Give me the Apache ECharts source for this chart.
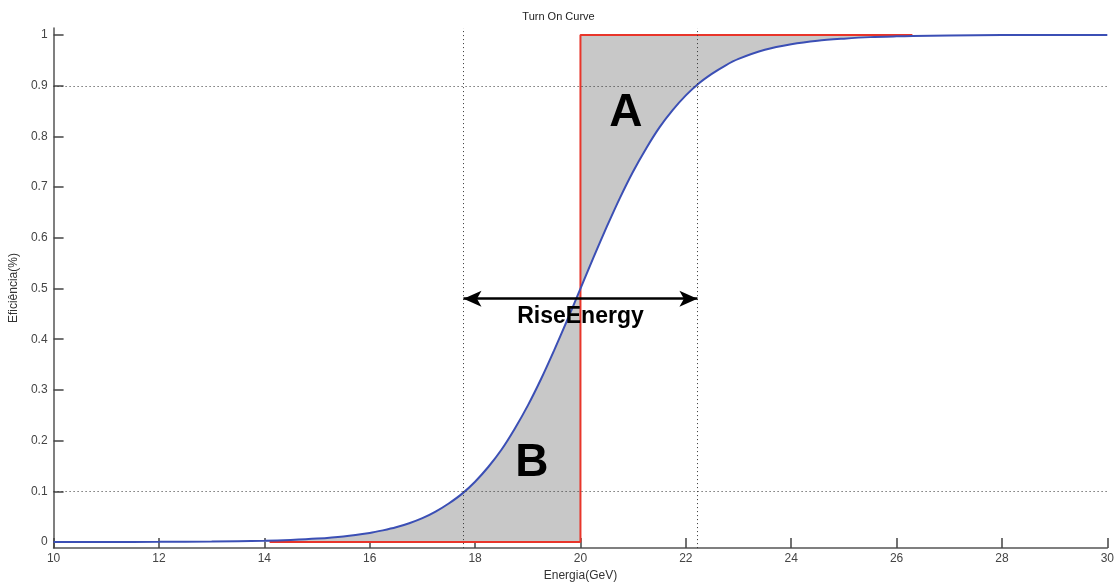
<!DOCTYPE html>
<html>
<head>
<meta charset="utf-8">
<script src="https://cdn.jsdelivr.net/npm/echarts@6/dist/echarts.min.js"></script>
<style>
  html, body { margin: 0; padding: 0; background: #fff; }
  #chart { width: 1117px; height: 587px; }
</style>
</head>
<body>
<div id="chart"></div>
<script>
// Efficiency turn-on curve (energy in GeV vs efficiency)
const energy = [10, 11, 12, 13, 14, 14.5, 15, 15.5, 16, 16.25, 16.5, 16.75, 17, 17.25, 17.5, 17.75,
                18, 18.25, 18.5, 18.75, 19, 19.25, 19.5, 19.75, 20, 20.25, 20.5, 20.75, 21, 21.25,
                21.5, 21.75, 22, 22.25, 22.5, 22.75, 23, 23.5, 24, 24.5, 25, 25.5, 26, 26.3, 27, 28, 29, 30];
const efficiency = [0.0000, 0.0001, 0.0003, 0.0010, 0.0025, 0.0041, 0.0067, 0.011, 0.018, 0.023,
                    0.029, 0.037, 0.047, 0.060, 0.076, 0.095, 0.119, 0.148, 0.182, 0.223,
                    0.269, 0.321, 0.378, 0.438, 0.500, 0.562, 0.622, 0.679, 0.731, 0.777,
                    0.818, 0.852, 0.881, 0.905, 0.924, 0.940, 0.953, 0.971, 0.982, 0.989,
                    0.993, 0.996, 0.9975, 0.998, 0.999, 1.000, 1.000, 1.000];

// Ideal step response (threshold at 20 GeV)
const stepX = [14.1, 20, 20, 26.3];
const stepY = [0, 0, 1, 1];

// Shaded regions: B below the curve before threshold, A above it after threshold
const regionBRange = [14, 20];
const regionARange = [20, 26.3];

// Reference levels and rise energy bounds
const levelLines = [0.1, 0.9];
const riseBounds = [17.78, 22.22];
const riseArrowY = 0.48;

// Annotations
const annText = ['A', 'B', 'RiseEnergy'];
const annX = [20.86, 19.08, 20.0];
const annY = [0.845, 0.155, 0.445];

const yTicks = [0, 0.1, 0.2, 0.3, 0.4, 0.5, 0.6, 0.7, 0.8, 0.9, 1];

const curvePts = energy.map((x, i) => [x, efficiency[i]]);
const inRange = (r) => curvePts.filter(p => p[0] >= r[0] && p[0] <= r[1]);

// Polygon for B: curve down to zero; polygon for A: curve up to one
const regionBPoly = inRange(regionBRange).concat([[regionBRange[1], 0], [regionBRange[0], 0]]);
const regionAPoly = inRange(regionARange).concat([[regionARange[1], 1], [regionARange[0], 1]]);

const GRAY_FILL = '#c8c8c8';
const DOTTED = { color: '#333', width: 1, type: [1, 3] };

function polygonSeries(name, poly) {
  return {
    name, type: 'custom', silent: true, z: 1, clip: true,
    data: [0],
    renderItem: (params, api) => ({
      type: 'polygon',
      shape: { points: poly.map(p => api.coord(p)) },
      style: { fill: GRAY_FILL, stroke: null }
    })
  };
}

const chart = echarts.init(document.getElementById('chart'), null, { renderer: 'canvas' });
chart.setOption({
  animation: false,
  backgroundColor: '#fff',
  title: {
    text: 'Turn On Curve',
    left: 'center',
    top: 6,
    textStyle: { fontFamily: 'Liberation Sans', fontSize: 11, fontWeight: 'normal', color: '#222' }
  },
  grid: { left: 52, right: 6, top: 28, bottom: 36 },
  xAxis: {
    type: 'value',
    min: 10, max: 30, interval: 2,
    name: 'Energia(GeV)',
    nameLocation: 'middle',
    nameGap: 20,
    nameTextStyle: { fontFamily: 'Liberation Sans', fontSize: 12, color: '#333' },
    axisLine: { show: true, onZero: false, lineStyle: { color: '#555', width: 1.5 } },
    axisTick: { show: true, inside: true, length: 10, lineStyle: { color: '#444', width: 1.5 } },
    axisLabel: { margin: 5, fontFamily: 'Liberation Sans', fontSize: 12, color: '#444' },
    splitLine: { show: false }
  },
  yAxis: {
    type: 'value',
    min: -0.012, max: 1.014,
    name: 'Eficiência(%)',
    nameLocation: 'middle',
    nameRotate: 90,
    nameGap: 32,
    nameTextStyle: { fontFamily: 'Liberation Sans', fontSize: 12, color: '#333' },
    axisLine: { show: true, onZero: false, lineStyle: { color: '#555', width: 1.5 } },
    axisTick: { show: true, inside: true, length: 10, customValues: yTicks, lineStyle: { color: '#444', width: 1.5 } },
    axisLabel: { margin: 6, customValues: yTicks, fontFamily: 'Liberation Sans', fontSize: 12, color: '#444',
                 formatter: v => String(Math.round(v * 10) / 10) },
    splitLine: { show: false }
  },
  series: [
    polygonSeries('regionB', regionBPoly),
    polygonSeries('regionA', regionAPoly),
    {
      name: 'step', type: 'line', data: stepX.map((x, i) => [x, stepY[i]]), showSymbol: false, silent: true,
      lineStyle: { color: '#e8352a', width: 2 }, z: 3,
      markLine: {
        silent: true, symbol: ['none', 'none'], label: { show: false },
        lineStyle: DOTTED,
        data: levelLines.map(v => ({ yAxis: v })).concat(riseBounds.map(v => ({ xAxis: v })))
      }
    },
    {
      name: 'curve', type: 'line', data: curvePts, smooth: 0.3, showSymbol: false, silent: true,
      lineStyle: { color: '#3b4fb5', width: 2 }, z: 4,
      markLine: {
        silent: true, symbol: ['arrow', 'arrow'], symbolSize: [12, 18], label: { show: false },
        lineStyle: { color: '#000', width: 2.5, type: 'solid' },
        data: [[{ coord: [riseBounds[0], riseArrowY] }, { coord: [riseBounds[1], riseArrowY] }]]
      }
    },
    {
      name: 'annotations', type: 'scatter', symbolSize: 0, silent: true, z: 6,
      itemStyle: { opacity: 1 },
      data: annText.map((t, i) => ({
        value: [annX[i], annY[i]],
        label: {
          show: true, position: 'inside', formatter: t,
          fontFamily: 'Liberation Sans', fontWeight: 'bold', color: '#000',
          fontSize: t.length > 1 ? 23 : 46
        }
      }))
    }
  ]
});
</script>
</body>
</html>
